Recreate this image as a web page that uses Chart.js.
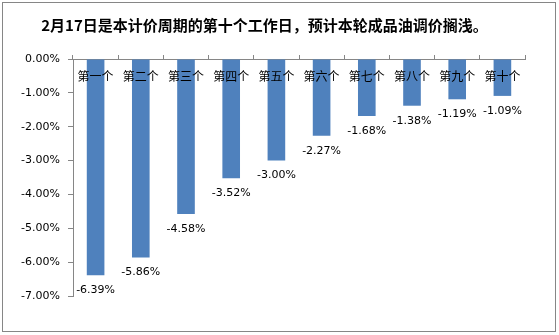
<!DOCTYPE html>
<html>
<head>
<meta charset="utf-8">
<script src="https://cdn.jsdelivr.net/npm/chart.js@4/dist/chart.umd.min.js"></script>
<style>
html,body{margin:0;padding:0;background:#fff;}
#wrap{position:relative;width:559px;height:335px;}
</style>
</head>
<body>
<div id="wrap"><canvas id="c" width="559" height="335"></canvas></div>
<script>
const titleText = '2月17日是本计价周期的第十个工作日，预计本轮成品油调价搁浅。';
const categories = ['第一个','第二个','第三个','第四个','第五个','第六个','第七个','第八个','第九个','第十个'];
const changes = [-6.39, -5.86, -4.58, -3.52, -3.00, -2.27, -1.68, -1.38, -1.19, -1.09];
const yMin = -7, yMax = 0, yStep = 1;

const frame = {
  id: 'frame',
  beforeDraw(chart) {
    const ctx = chart.ctx;
    ctx.save();
    ctx.fillStyle = '#fff';
    ctx.fillRect(0, 0, chart.width, chart.height);
    ctx.strokeStyle = '#868686';
    ctx.lineWidth = 1;
    ctx.strokeRect(2.5, 2.5, 553, 329);
    ctx.restore();
  }
};

const valueLabels = {
  id: 'valueLabels',
  afterDatasetsDraw(chart) {
    const ctx = chart.ctx;
    const meta = chart.getDatasetMeta(0);
    ctx.save();
    ctx.font = '11px "DejaVu Sans"';
    ctx.fillStyle = '#000';
    ctx.textAlign = 'center';
    ctx.textBaseline = 'middle';
    meta.data.forEach((el, i) => {
      const v = chart.data.datasets[0].data[i];
      ctx.fillText(v.toFixed(2) + '%', el.x, el.y + 15);
    });
    ctx.restore();
  }
};

new Chart(document.getElementById('c'), {
  type: 'bar',
  data: {
    labels: categories,
    datasets: [{
      data: changes,
      backgroundColor: '#4F81BD',
      borderWidth: 0,
      barPercentage: 0.39,
      categoryPercentage: 1.0
    }]
  },
  options: {
    responsive: false,
    animation: false,
    devicePixelRatio: 1,
    layout: { padding: { left: 4, right: 34, top: 0, bottom: 39 } },
    plugins: {
      legend: { display: false },
      tooltip: { enabled: false },
      title: {
        display: true,
        text: titleText,
        color: '#000',
        font: { family: '"Noto Sans CJK SC"', size: 15, weight: 'bold', lineHeight: 1.2 },
        padding: { top: 16, bottom: 25 }
      }
    },
    scales: {
      x: {
        position: { y: 0 },
        offset: true,
        grid: {
          offset: true,
          drawOnChartArea: false,
          drawTicks: true,
          tickLength: -5,
          tickColor: '#868686'
        },
        border: { display: true, color: '#868686', width: 1 },
        ticks: {
          z: 1,
          color: '#000',
          padding: 15,
          maxRotation: 0,
          autoSkip: false,
          font: { family: '"Noto Sans CJK SC"', size: 12 }
        }
      },
      y: {
        min: yMin,
        max: yMax,
        afterFit(scale) { scale.width = 69; },
        grid: {
          drawOnChartArea: false,
          drawTicks: true,
          tickLength: 5,
          tickColor: '#868686'
        },
        border: { display: true, color: '#868686', width: 1 },
        ticks: {
          stepSize: yStep,
          padding: 8,
          color: '#000',
          font: { family: '"DejaVu Sans"', size: 11 },
          callback: v => v.toFixed(2) + '%'
        }
      }
    }
  },
  plugins: [frame, valueLabels]
});
</script>
</body>
</html>
